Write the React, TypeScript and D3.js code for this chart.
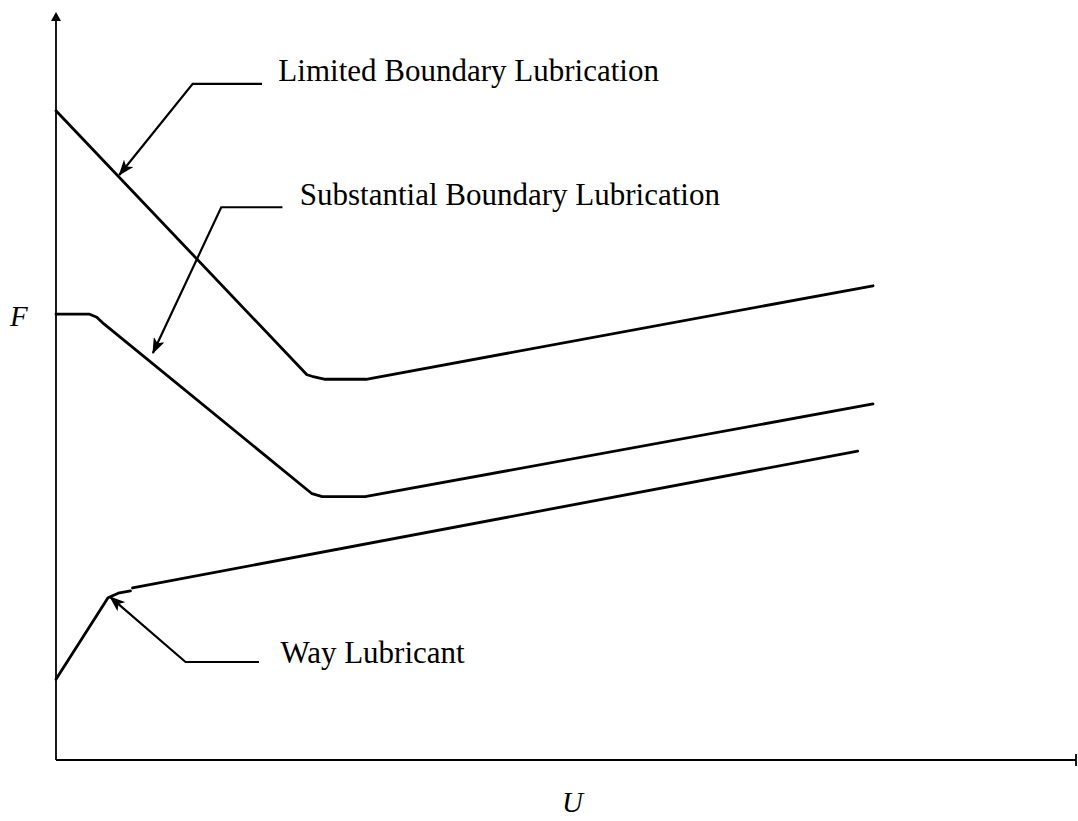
import React from "react";
import * as d3 from "d3";

// Data in chart units (x: U 0..100, y: F 0..100)
const limitedU = [0, 24.6, 25.1, 26.4, 30.4, 80.1];
const limitedF = [86.8, 51.5, 51.3, 50.9, 50.9, 63.4];

const substantialU = [0, 3.3, 4.0, 4.7, 25.1, 26.1, 30.3, 80.1];
const substantialF = [59.6, 59.6, 59.2, 58.3, 35.6, 35.2, 35.2, 47.6];

const wayRiseU = [0, 5.1, 6.1, 7.3];
const wayRiseF = [10.8, 21.7, 22.3, 22.6];
const wayLineU = [7.5, 78.6];
const wayLineF = [23.0, 41.3];

const labelNames = ["Limited Boundary Lubrication", "Substantial Boundary Lubrication", "Way Lubricant"];
const labelU = [21.8, 23.9, 22.0];
const labelF = [90.8, 74.2, 13.0];
// leader: start (near text) -> elbow -> arrow tip
const leaderStartU = [20.2, 22.2, 19.9];
const leaderStartF = [90.4, 73.9, 13.1];
const leaderElbowU = [13.4, 16.2, 12.7];
const leaderElbowF = [90.4, 73.9, 13.1];
const leaderTipU = [6.2, 9.5, 5.3];
const leaderTipF = [78.2, 54.4, 21.8];

const xAxisLabel = "U";
const yAxisLabel = "F";

export default function App() {
  const W = 1078;
  const H = 821;
  const x = d3.scaleLinear().domain([0, 100]).range([56, 1076]);
  const y = d3.scaleLinear().domain([0, 100]).range([760, 12]);
  const line = d3
    .line<[number, number]>()
    .x((d) => x(d[0]))
    .y((d) => y(d[1]));

  const zip = (a: number[], b: number[]) => a.map((v, i) => [v, b[i]] as [number, number]);

  const curves = [
    zip(limitedU, limitedF),
    zip(substantialU, substantialF),
    zip(wayRiseU, wayRiseF),
    zip(wayLineU, wayLineF),
  ];

  const font = "'Liberation Serif', 'Times New Roman', serif";

  return (
    <svg
      width={W}
      height={H}
      style={{ position: "absolute", left: 0, top: 0, background: "#fff" }}
    >
      <defs>
        <marker
          id="arr"
          viewBox="0 0 16 12"
          refX="15"
          refY="6"
          markerWidth="16"
          markerHeight="12"
          markerUnits="userSpaceOnUse"
          orient="auto"
        >
          <path d="M0,0 L16,6 L0,12 L4,6 Z" fill="#000" />
        </marker>
      </defs>
      <rect x={0} y={0} width={W} height={H} fill="#fff" />

      {/* axes */}
      <line x1={x(0)} y1={y(0)} x2={x(0)} y2={y(100) + 4} stroke="#000" strokeWidth={1.8} />
      <path
        d={`M${x(0)},${y(100)} L${x(0) - 5},${y(100) + 9} L${x(0) + 5},${y(100) + 9} Z`}
        fill="#000"
      />
      <line x1={x(0)} y1={y(0)} x2={x(100)} y2={y(0)} stroke="#000" strokeWidth={1.8} />
      <line x1={x(100)} y1={y(0) - 6} x2={x(100)} y2={y(0) + 6} stroke="#000" strokeWidth={1.8} />

      {/* curves */}
      {curves.map((c, i) => (
        <path
          key={i}
          d={line(c) || ""}
          fill="none"
          stroke="#000"
          strokeWidth={2.8}
          strokeLinejoin="round"
          strokeLinecap="round"
        />
      ))}

      {/* annotations */}
      {labelNames.map((name, i) => (
        <g key={name}>
          <path
            d={`M${x(leaderStartU[i])},${y(leaderStartF[i])} L${x(leaderElbowU[i])},${y(
              leaderElbowF[i]
            )} L${x(leaderTipU[i])},${y(leaderTipF[i])}`}
            fill="none"
            stroke="#000"
            strokeWidth={2.2}
            markerEnd="url(#arr)"
          />
          <text x={x(labelU[i])} y={y(labelF[i])} fontFamily={font} fontSize={31} fill="#000">
            {name}
          </text>
        </g>
      ))}

      {/* axis labels */}
      <text x={10} y={326} fontFamily={font} fontStyle="italic" fontSize={29} fill="#000">
        {yAxisLabel}
      </text>
      <text x={562} y={812} fontFamily={font} fontStyle="italic" fontSize={29} fill="#000">
        {xAxisLabel}
      </text>
    </svg>
  );
}
